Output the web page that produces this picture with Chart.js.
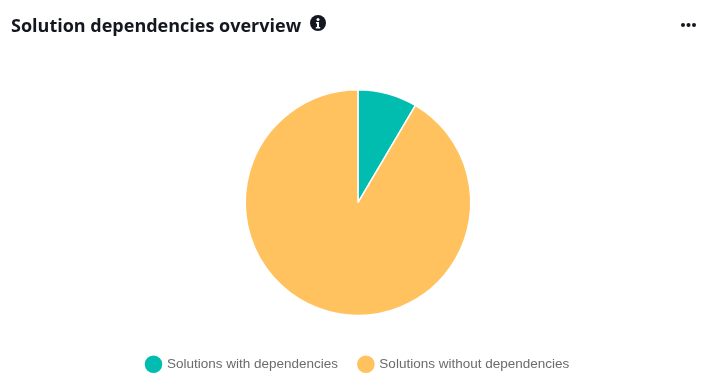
<!DOCTYPE html>
<html>
<head>
<meta charset="utf-8">
<style>
html,body{margin:0;padding:0;background:#fff;width:714px;height:383px;overflow:hidden}
#t{position:absolute;left:11px;top:12px;font:700 18px "Open Sans";color:#14171f;white-space:nowrap;line-height:26px}
#i{position:absolute;left:310px;top:15px;width:16px;height:16px}
#m{position:absolute;left:680px;top:22px;width:17px;height:6px}
#w{position:absolute;left:0;top:0;width:714px;height:383px}
</style>
<script src="https://cdn.jsdelivr.net/npm/chart.js@4"></script>
</head>
<body>
<div id="w"><canvas id="c" width="714" height="383"></canvas></div>
<div id="t">Solution dependencies overview</div>
<svg id="i" viewBox="0 0 16 16"><circle cx="8" cy="8" r="8" fill="#14171f"/><circle cx="8" cy="4.4" r="1.5" fill="#fff"/><path d="M6 7h3v5h1.2v1.4H5.8V12H7V8.4H6z" fill="#fff"/></svg>
<svg id="m" viewBox="0 0 17 6"><circle cx="3" cy="3" r="2" fill="#14171f"/><circle cx="8.5" cy="3" r="2" fill="#14171f"/><circle cx="14" cy="3" r="2" fill="#14171f"/></svg>
<script>
const categories = ["Solutions with dependencies", "Solutions without dependencies"];
const seriesValues = [8.5, 91.5];
const sliceColors = ["#00bdb0", "#ffc25f"];
new Chart(document.getElementById("c"), {
  type: "pie",
  data: { labels: categories, datasets: [{ data: seriesValues, backgroundColor: sliceColors, borderColor: "#fff", borderWidth: 1.5 }] },
  options: {
    responsive: false,
    animation: false,
    layout: { padding: { top: 89, bottom: 2, left: 2, right: 0 } },
    plugins: {
      tooltip: { enabled: false },
      legend: {
        position: "bottom",
        title: { display: true, text: " ", padding: 3, font: { size: 12 } },
        labels: { usePointStyle: true, pointStyle: "circle", boxWidth: 18, boxHeight: 18, padding: 21, color: "#6b6b6b", font: { family: "Liberation Sans", size: 13.5 } }
      }
    }
  }
});
</script>
</body>
</html>
